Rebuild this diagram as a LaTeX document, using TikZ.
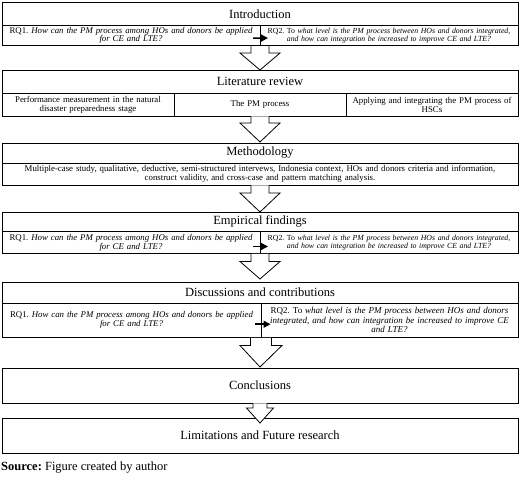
\documentclass[tikz,border=0pt]{standalone}
\usepackage{fontspec}
\setmainfont{Liberation Serif}
\usetikzlibrary{calc,arrows.meta}
\frenchspacing

\tikzset{
  titlebox/.style={draw, line width=0.8pt, outer sep=0pt, minimum width=516pt, inner sep=0pt,
    anchor=north west, font=\fontsize{12.5}{14}\selectfont},
  cell/.style={draw, line width=0.8pt, outer sep=0pt, inner sep=2pt, align=center,
    anchor=north west, font=\fontsize{8.8}{8.8}\selectfont},
  smallrq/.style={inner sep=1pt, font=\fontsize{7.8}{8.2}\selectfont},
  bigarrow/.style={draw, line width=0.8pt, fill=white, line join=miter},
  smallarrow/.style={line width=1.6pt, -{Triangle[length=7pt,width=7pt]}},
}

% hollow block arrow: from, to, shaft half width, head half width, shaft length, tip shift
\newcommand{\blockarrow}[6]{%
  \draw[bigarrow] ($(#1)+(-#3,0.4)$) -- ($(#1)+(-#3,#5)$) -- ($(#1)+(-#4,#5)$)
    -- ($(#2)+(0,#6)$) -- ($(#1)+(#4,#5)$) -- ($(#1)+(#3,#5)$) -- ($(#1)+(#3,0.4)$);}

\begin{document}
\begin{tikzpicture}[x=1pt,y=-1pt]
\useasboundingbox (0,0) rectangle (520,489);

% Introduction
\node[titlebox, minimum height=22.3pt] (intro) at (2,2.7) {Introduction};
\node[cell, text width=254pt, minimum height=20.7pt] (i1) at (intro.south west)
  {RQ1. {\itshape How can the PM process among HOs and donors be applied\\ for CE and LTE?}};
\node[cell, smallrq, text width=256pt, minimum height=20.7pt] (i2) at (i1.north east)
  {RQ2. To {\itshape what level is the PM process between HOs and donors integrated,\\ and how can integration be increased to improve CE and LTE?}};

% Literature review
\node[titlebox, minimum height=23.3pt] (lit) at (2,70) {Literature review};
\node[cell, text width=168pt, minimum height=22.7pt] (l1) at (lit.south west)
  {Performance measurement in the natural\\ disaster preparedness stage};
\node[cell, text width=168pt, minimum height=22.7pt] (l2) at (l1.north east) {The PM process};
\node[cell, text width=168pt, minimum height=22.7pt] (l3) at (l2.north east)
  {Applying and integrating the PM process of\\ HSCs};

% Methodology
\node[titlebox, minimum height=20pt] (meth) at (2,143) {Methodology};
\node[cell, text width=512pt, minimum height=22pt, font=\fontsize{8.8}{9}\selectfont] (m1) at (meth.south west)
  {Multiple-case study, qualitative, deductive, semi-structured intervews, Indonesia context, HOs and donors criteria and information,\\ construct validity, and cross-case and pattern matching analysis.};

% Empirical findings
\node[titlebox, minimum height=19.5pt] (emp) at (2,212) {Empirical findings};
\node[cell, text width=254pt, minimum height=22pt] (e1) at (emp.south west)
  {RQ1. {\itshape How can the PM process among HOs and donors be applied\\ for CE and LTE?}};
\node[cell, smallrq, text width=256pt, minimum height=22pt] (e2) at (e1.north east)
  {RQ2. To {\itshape what level is the PM process between HOs and donors integrated,\\ and how can integration be increased to improve CE and LTE?}};

% Discussions and contributions
\node[titlebox, minimum height=21pt] (disc) at (2,282) {Discussions and contributions};
\node[cell, text width=255pt, minimum height=34.5pt] (d1) at (disc.south west)
  {RQ1. {\itshape How can the PM process among HOs and donors be applied\\ for CE and LTE?}};
\node[cell, text width=253pt, minimum height=34.5pt, font=\fontsize{9}{9.5}\selectfont] (d2) at (d1.north east)
  {RQ2. To {\itshape what level is the PM process between HOs and donors\\ integrated, and how can integration be increased to improve CE\\ and LTE?}};

% Conclusions, limitations
\node[titlebox, minimum height=35pt] (concl) at (2,368) {Conclusions};
\node[titlebox, minimum height=35pt] (lim) at (2,418) {Limitations and Future research};

\node[anchor=west, inner sep=0pt, font=\fontsize{12.5}{14}\selectfont] (src) at (1,468)
  {\textbf{Source:} Figure created by author};

% arrows between RQs
\draw[smallarrow] ([xshift=-7pt,yshift=-2.7pt]i1.east) -- ([xshift=8pt,yshift=-2.7pt]i2.west);
\draw[smallarrow] ([xshift=-7pt,yshift=-4pt]e1.east) -- ([xshift=8pt,yshift=-4pt]e2.west);
\draw[smallarrow] ([xshift=-6pt,yshift=-4pt]d1.east) -- ([xshift=9.5pt,yshift=-4pt]d2.west);

% block arrows between sections
\blockarrow{i1.south east}{lit.north}{9}{20}{7.3}{0}
\blockarrow{l2.south}{meth.north}{9}{20}{7}{-1}
\blockarrow{m1.south}{emp.north}{9}{20}{8}{0}
\blockarrow{e1.south east}{disc.north}{9}{20}{8}{-3}
\blockarrow{d1.south east}{concl.north}{10.5}{21}{8}{-1}
\blockarrow{concl.south}{lim.north}{7}{13.5}{5}{5}

\end{tikzpicture}
\end{document}
